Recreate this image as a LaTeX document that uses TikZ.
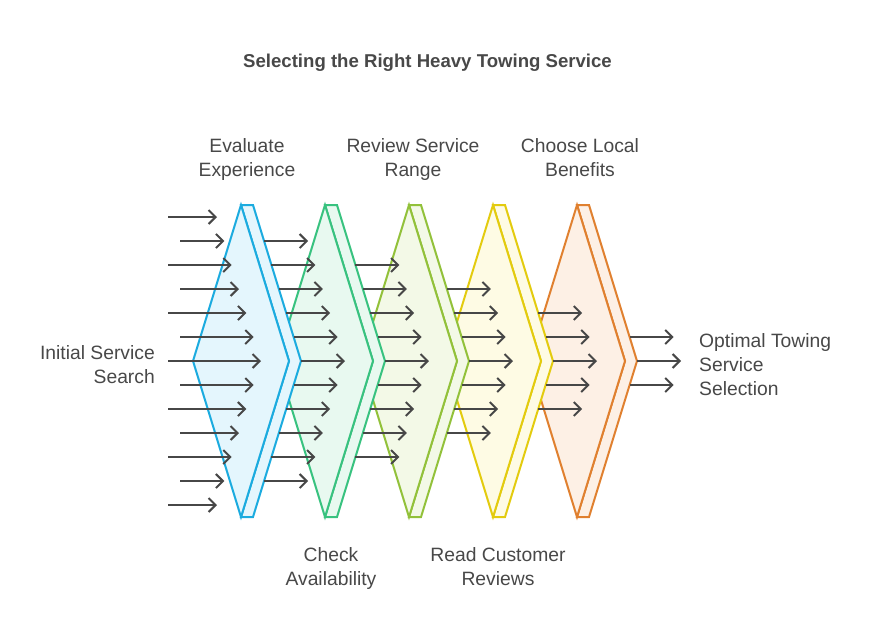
\documentclass[tikz,border=0pt]{standalone}
\usepackage{fontspec}
\setmainfont{Liberation Sans}
\usetikzlibrary{arrows.meta}
\definecolor{txt}{HTML}{484848}
\definecolor{arr}{HTML}{474747}
\definecolor{s0}{HTML}{1BABDF}
\definecolor{f0}{HTML}{E4F6FD}
\definecolor{s1}{HTML}{38C27F}
\definecolor{f1}{HTML}{E8F9F0}
\definecolor{s2}{HTML}{92C13A}
\definecolor{f2}{HTML}{F3F9E7}
\definecolor{s3}{HTML}{E3CB0E}
\definecolor{f3}{HTML}{FEFBE4}
\definecolor{s4}{HTML}{E0802F}
\definecolor{f4}{HTML}{FDF0E5}
\begin{document}
\begin{tikzpicture}[x=1pt,y=-1pt,
  flow/.style={draw=arr, line width=2pt, -{Straight Barb[length=7pt,width=14pt,line width=2pt]}},
  lbl/.style={text=txt, font=\fontsize{19.3}{24}\selectfont, inner sep=0pt},
  filt/.style={line width=2pt, line join=miter}
]
\path[use as bounding box] (0,0) rectangle (878,638);
% filters (later ones first so earlier ones lie on top)
\foreach \i in {4,3,2,1,0} {
  \pgfmathsetmacro\tx{241+84*\i}
  \draw[filt, draw=s\i, fill=f\i] (\tx,205) -- (\tx+12,205) -- (\tx+60,361) -- (\tx+12,517) -- (\tx,517) -- (\tx+48,361) -- cycle;
  \draw[filt, draw=s\i, fill=f\i] (\tx-48,361) -- (\tx,205) -- (\tx+48,361) -- (\tx,517) -- cycle;
  \coordinate (filter\i) at (\tx,361);
}
% incoming arrows
\foreach \k in {0,...,12} {
  \pgfmathsetmacro\xs{isodd(\k) ? 180 : 168}
  \pgfmathsetmacro\xe{261-44/6*abs(\k-6)}
  \pgfmathsetmacro\y{217+24*\k}
  \coordinate (in\k a) at (\xs,\y);
  \coordinate (in\k b) at (\xe,\y);
  \draw[flow] (in\k a) -- (in\k b);
}
% arrows leaving each filter
\foreach \i in {0,...,4} {
  \pgfmathtruncatemacro\ka{\i+1}
  \pgfmathtruncatemacro\kb{11-\i}
  \foreach \k in {\ka,...,\kb} {
    \pgfmathsetmacro\y{217+24*\k}
    \pgfmathsetmacro\xs{241+84*\i+60-48*abs(\y-361)/156}
    \coordinate (o\i\k a) at (\xs,\y);
    \coordinate (o\i\k b) at (\xs+44,\y);
    \draw[flow] (o\i\k a) -- (o\i\k b);
  }
}
% labels (base = baseline of the last line)
\node[lbl, anchor=base, font=\fontsize{18.6}{24}\selectfont\bfseries] (title) at (427.5,67) {Selecting the Right Heavy Towing Service};
\node[lbl, anchor=base, align=center] (l1) at (247,176) {Evaluate\\Experience};
\node[lbl, anchor=base, align=center] (l3) at (413,176) {Review Service\\Range};
\node[lbl, anchor=base, align=center] (l5) at (580,176) {Choose Local\\Benefits};
\node[lbl, anchor=base, align=center] (l2) at (331,585) {Check\\Availability};
\node[lbl, anchor=base, align=center] (l4) at (498,585) {Read Customer\\Reviews};
\node[lbl, anchor=base east, align=right] (start) at (155,383) {Initial Service\\Search};
\node[lbl, anchor=base west, align=left] (end) at (699,395) {Optimal Towing\\Service\\Selection};
\end{tikzpicture}
\end{document}
